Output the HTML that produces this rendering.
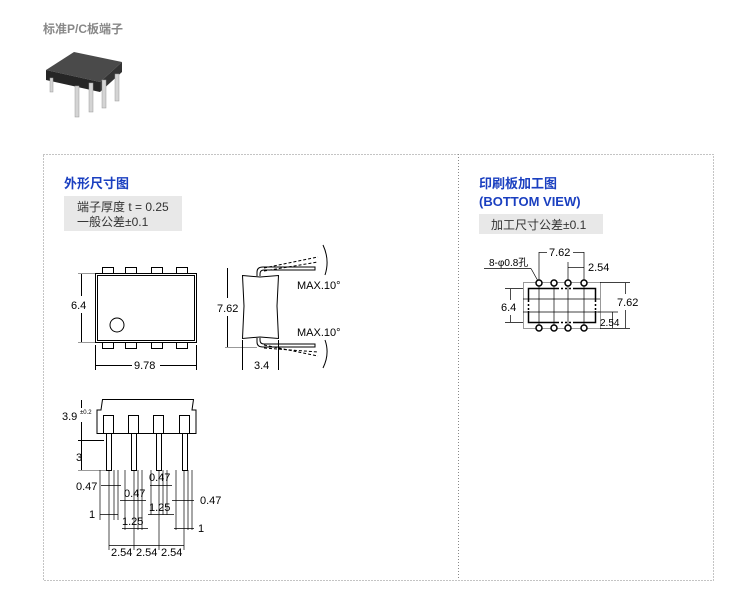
<!DOCTYPE html>
<html><head><meta charset="utf-8"><style>
body{margin:0;background:#fff;width:740px;height:600px;overflow:hidden;font-family:"Liberation Sans","Noto Sans CJK SC",sans-serif;}
</style></head><body>
<svg width="740" height="600" xmlns="http://www.w3.org/2000/svg" style="position:absolute;left:0;top:0;font-family:'Liberation Sans','Noto Sans CJK SC',sans-serif">
<text x="43" y="33" font-size="12" font-weight="bold" fill="#888">标准P/C板端子</text>
<!-- chip photo -->
<polygon points="46,70 74,52 122,62 100,82" fill="#4a4a4a"/>
<polygon points="46,70 100,82 100,92 46,80" fill="#262626"/>
<polygon points="100,82 122,62 122,72 100,92" fill="#333"/>
<g fill="#d4d4d4" stroke="#999" stroke-width="0.5">
<rect x="50" y="78" width="3" height="14"/><rect x="75" y="86" width="4" height="31"/><rect x="89" y="83" width="4" height="29"/><rect x="102" y="80" width="4" height="28"/><rect x="115" y="74" width="4" height="27"/>
</g>
<!-- panels -->
<rect x="43.5" y="154.5" width="670" height="426" fill="none" stroke="#888" stroke-dasharray="1,2"/>
<line x1="458.5" y1="154" x2="458.5" y2="580" stroke="#888" stroke-dasharray="1,2"/>
<text x="64" y="188" font-size="13" font-weight="bold" fill="#1a3fc0">外形尺寸图</text>
<rect x="64" y="196" width="118" height="35" fill="#e8e8e8"/>
<text x="77" y="211" font-size="12" fill="#333">端子厚度 t = 0.25</text>
<text x="77" y="226" font-size="12" fill="#333">一般公差±0.1</text>
<text x="479" y="188" font-size="13" font-weight="bold" fill="#1a3fc0">印刷板加工图</text>
<text x="479" y="206" font-size="13" font-weight="bold" fill="#1a3fc0">(BOTTOM VIEW)</text>
<rect x="479" y="214" width="124" height="20" fill="#e8e8e8"/>
<text x="491" y="229" font-size="12" fill="#333">加工尺寸公差±0.1</text>

<g stroke="#000" fill="none" stroke-width="1" font-size="11">
<!-- top view -->
<rect x="95.5" y="273.5" width="101" height="69"/>
<rect x="97.5" y="275.5" width="97" height="65"/>
<rect x="102.5" y="267.5" width="11" height="6"/><rect x="125.5" y="267.5" width="11" height="6"/><rect x="151.5" y="267.5" width="11" height="6"/><rect x="176.5" y="267.5" width="11" height="6"/>
<rect x="102.5" y="342.5" width="11" height="6"/><rect x="125.5" y="342.5" width="11" height="6"/><rect x="151.5" y="342.5" width="11" height="6"/><rect x="176.5" y="342.5" width="11" height="6"/>
<circle cx="117" cy="325" r="7"/>
<line x1="78" y1="273.5" x2="95" y2="273.5" stroke="#999"/><line x1="78" y1="342.5" x2="95" y2="342.5" stroke="#999"/>
<line x1="81.5" y1="274" x2="81.5" y2="296"/><line x1="81.5" y1="313" x2="81.5" y2="342"/>
<line x1="95.5" y1="345" x2="95.5" y2="370"/><line x1="196.5" y1="345" x2="196.5" y2="370"/>
<line x1="96" y1="365.5" x2="132" y2="365.5"/><line x1="160" y1="365.5" x2="196" y2="365.5"/>
<!-- side view -->
<path d="M242.5,275.5 L260,277 L278.5,275.5 L277,306 L278.5,338.5 L260,337 L242.5,338.5 L244,306 Z"/>
<path d="M257,276 L257,272 Q257,267 263,267 L315,267 L315,270 L264,270 Q260,270 260,274 L260,276"/>
<path d="M257,338 L257,342 Q257,347 263,347 L315,347 L315,344 L264,344 Q260,344 260,340 L260,338"/>
<path d="M264,268 L318,257 M264,271 L318,262" stroke-dasharray="3,2"/>
<path d="M264,345 L318,356 M264,348 L318,352" stroke-dasharray="3,2"/>
<path d="M323,245 Q330,260 325,275 M323,368 Q330,354 325,340"/>
<line x1="227.5" y1="268" x2="227.5" y2="298"/><line x1="227.5" y1="316" x2="227.5" y2="347"/>
<line x1="225" y1="347.5" x2="257" y2="347.5" stroke="#999"/>
<line x1="242.5" y1="340" x2="242.5" y2="370"/><line x1="278.5" y1="340" x2="278.5" y2="370"/>
<!-- front view -->
<path d="M102.5,399.5 L193.5,399.5 L192,410 L196,410 L196,433.5 L97,433.5 L97,410 L101,410 Z"/>
<rect x="103.5" y="415.5" width="10" height="18"/><rect x="128.5" y="415.5" width="10" height="18"/><rect x="153.5" y="415.5" width="10" height="18"/><rect x="179.5" y="415.5" width="10" height="18"/>
<rect x="106.5" y="433.5" width="5" height="37"/><rect x="131.5" y="433.5" width="5" height="37"/><rect x="156.5" y="433.5" width="5" height="37"/><rect x="182.5" y="433.5" width="5" height="37"/>
<line x1="81.5" y1="400" x2="81.5" y2="408"/><line x1="81.5" y1="422" x2="81.5" y2="470"/>
<line x1="78" y1="440.5" x2="104" y2="440.5"/><line x1="78" y1="470.5" x2="106" y2="470.5" stroke="#999"/>
<g stroke-width="0.7">
<line x1="100" y1="470" x2="100" y2="520"/><line x1="109" y1="470" x2="109" y2="550"/><line x1="114" y1="470" x2="114" y2="520"/><line x1="118" y1="470" x2="118" y2="520"/>
<line x1="125" y1="470" x2="125" y2="530"/><line x1="134" y1="470" x2="134" y2="550"/><line x1="138" y1="470" x2="138" y2="530"/><line x1="142" y1="470" x2="142" y2="530"/>
<line x1="151" y1="470" x2="151" y2="515"/><line x1="159" y1="470" x2="159" y2="550"/><line x1="163" y1="470" x2="163" y2="515"/><line x1="167" y1="470" x2="167" y2="515"/>
<line x1="176" y1="470" x2="176" y2="530"/><line x1="184" y1="470" x2="184" y2="550"/><line x1="188" y1="470" x2="188" y2="530"/><line x1="192" y1="470" x2="192" y2="530"/>
<line x1="101" y1="485.5" x2="121" y2="485.5"/>
<line x1="120" y1="500.5" x2="146" y2="500.5"/>
<line x1="150" y1="485.5" x2="172" y2="485.5"/>
<line x1="172" y1="500.5" x2="194" y2="500.5"/>
<line x1="100" y1="514.5" x2="118" y2="514.5"/>
<line x1="148" y1="514.5" x2="174" y2="514.5"/>
<line x1="122" y1="528.5" x2="148" y2="528.5"/>
<line x1="174" y1="528.5" x2="194" y2="528.5"/>
<line x1="109" y1="545.5" x2="184" y2="545.5"/>
</g>
<!-- PCB view -->
<rect x="523.5" y="282.5" width="77" height="46" stroke="#999"/>
<path d="M557,288.5 L528.5,288.5 L528.5,300 M528.5,311 L528.5,322.5 L557,322.5 M573,288.5 L595.5,288.5 L595.5,300 M595.5,311 L595.5,322.5 L573,322.5" stroke-width="1.5"/>
<path d="M557,288.5 L573,288.5 M557,322.5 L573,322.5 M528.5,300 L528.5,311 M595.5,300 L595.5,311" stroke-dasharray="2,2" stroke-width="1.5"/>
<g stroke-width="0.7">
<line x1="539" y1="252" x2="539" y2="328"/><line x1="554" y1="283" x2="554" y2="328"/><line x1="568" y1="262" x2="568" y2="328"/><line x1="584" y1="252" x2="584" y2="328"/>
<line x1="523" y1="299" x2="600" y2="299"/><line x1="523" y1="312" x2="600" y2="312"/>
<line x1="539" y1="252.5" x2="547" y2="252.5"/><line x1="573" y1="252.5" x2="584" y2="252.5"/>
<line x1="568" y1="267.5" x2="584" y2="267.5"/>
<line x1="484" y1="268.5" x2="531" y2="268.5"/><line x1="531" y1="268.5" x2="538" y2="281"/>
<line x1="505" y1="288.5" x2="523" y2="288.5"/><line x1="505" y1="322.5" x2="523" y2="322.5"/>
<line x1="510.5" y1="289" x2="510.5" y2="300"/><line x1="510.5" y1="315" x2="510.5" y2="322"/>
<line x1="600" y1="282.5" x2="630" y2="282.5"/><line x1="600" y1="328.5" x2="630" y2="328.5"/>
<line x1="625.5" y1="283" x2="625.5" y2="294"/><line x1="625.5" y1="310" x2="625.5" y2="328"/>
<line x1="598" y1="312" x2="618" y2="312"/><line x1="612.5" y1="312" x2="612.5" y2="328"/>
</g>
<g stroke-width="1.5" fill="#fff">
<circle cx="539" cy="283" r="3"/><circle cx="554" cy="283" r="3"/><circle cx="568" cy="283" r="3"/><circle cx="584" cy="283" r="3"/>
<circle cx="539" cy="328" r="3"/><circle cx="554" cy="328" r="3"/><circle cx="568" cy="328" r="3"/><circle cx="584" cy="328" r="3"/>
</g>
</g>
<g font-size="11" fill="#000">
<text x="71" y="309">6.4</text>
<text x="134" y="369">9.78</text>
<text x="217" y="312">7.62</text>
<text x="254" y="369">3.4</text>
<text x="297" y="289">MAX.10°</text>
<text x="297" y="336">MAX.10°</text>
<text x="62" y="420">3.9</text><text x="80" y="414" font-size="6">±0.2</text>
<text x="76" y="461">3</text>
<text x="76" y="490">0.47</text>
<text x="124" y="497">0.47</text>
<text x="149" y="481">0.47</text>
<text x="200" y="504">0.47</text>
<text x="89" y="518">1</text>
<text x="149" y="511">1.25</text>
<text x="122" y="525">1.25</text>
<text x="198" y="532">1</text>
<text x="111" y="556">2.54</text><text x="136" y="556">2.54</text><text x="161" y="556">2.54</text>
<text x="489" y="266" font-size="10">8-φ0.8孔</text>
<text x="549" y="256">7.62</text>
<text x="588" y="271">2.54</text>
<text x="501" y="311">6.4</text>
<text x="617" y="306">7.62</text>
<text x="600" y="326" font-size="10">2.54</text>
</g>
</svg>
</body></html>
